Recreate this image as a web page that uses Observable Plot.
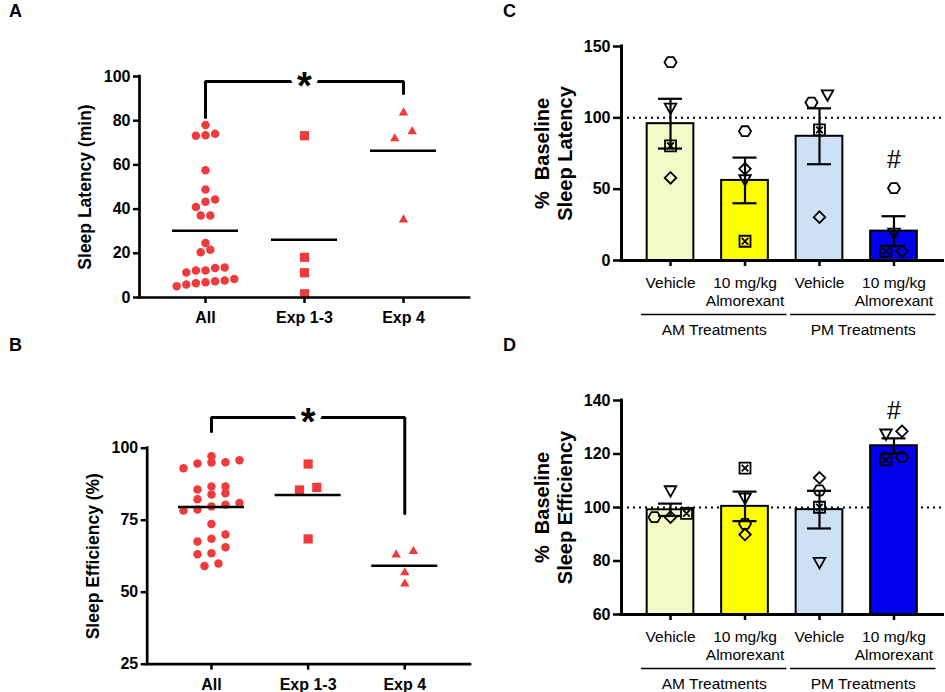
<!DOCTYPE html>
<html><head><meta charset="utf-8">
<script src="https://cdn.jsdelivr.net/npm/d3@7"></script>
<script src="https://cdn.jsdelivr.net/npm/@observablehq/plot@0.6"></script>
<style>
body{margin:0;background:#fff;}
#fig{position:relative;width:945px;height:692px;font-family:"Liberation Sans",Arial,Helvetica,sans-serif;}
.panel{position:absolute;}
.letter{position:absolute;font-weight:bold;font-size:18px;line-height:18px;color:#000;}
</style></head><body><div id="fig"></div>
<script>
// ---------------- DATA ----------------
const scatterGroups = ["All", "Exp 1-3", "Exp 4"];
const latencyAll = [78.1, 74.1, 73.2, 73.4, 57.6, 48.9, 43.3, 41.0, 44.3, 37.1, 37.1, 24.7, 20.5, 21.6, 12.2, 13.6, 13.4, 11.3, 12.2, 6.5, 8.4, 6.9, 7.7, 5.1, 7.4, 5.9];
const latencyExp13 = [73.2, 18.2, 11.2, 1.7];
const latencyExp4 = [83.6, 75.1, 71.9, 35.2];
const efficiencyAll = [97.2, 95.8, 95.1, 95.0, 94.7, 93.0, 86.7, 86.7, 84.4, 85.7, 83.9, 82.3, 81.0, 80.4, 79.8, 78.4, 78.7, 73.7, 68.6, 70.0, 67.6, 65.6, 63.5, 63.2, 59.1, 60.0];
const efficiencyExp13 = [94.5, 86.4, 85.5, 68.5];
const efficiencyExp4 = [63.0, 64.2, 56.8, 52.9];
const latencyTicks = [0, 20, 40, 60, 80, 100];
const efficiencyTicks = [25, 50, 75, 100];
const sigLatency = {from: 0, to: 2, top: 97.7, leftEnd: 81.4, rightEnd: 92.3, label: "*"};
const sigEfficiency = {from: 0, to: 2, top: 110.7, leftEnd: 105.8, rightEnd: 77.3, label: "*"};

const treatmentKeys = ["AM Vehicle", "AM Almorexant", "PM Vehicle", "PM Almorexant"];
const treatmentLabels = ["Vehicle", "10 mg/kg\nAlmorexant", "Vehicle", "10 mg/kg\nAlmorexant"];
const treatmentGroups = [{label: "AM Treatments", first: 0, last: 1}, {label: "PM Treatments", first: 2, last: 3}];
const subjectIds = ["S1", "S2", "S3", "S4"];
// % baseline sleep latency per subject, in treatment order
const latencyPctS1 = [139.0, 90.6, 110.7, 50.7];
const latencyPctS2 = [106.3, 56.1, 115.6, 18.7];
const latencyPctS3 = [80.4, 13.5, 91.6, 6.5];
const latencyPctS4 = [57.9, 64.3, 30.4, 6.5];
// % baseline sleep efficiency per subject
const efficiencyPctS1 = [96.4, 93.9, 106.4, 118.8];
const efficiencyPctS2 = [106.0, 103.2, 79.2, 127.2];
const efficiencyPctS3 = [97.8, 114.7, 100.1, 117.8];
const efficiencyPctS4 = [96.4, 89.9, 111.1, 128.5];
const pctLatencyTicks = [0, 50, 100, 150];
const pctEfficiencyTicks = [60, 80, 100, 120, 140];
const hashLatency = {treatment: 3, y: 70.6, label: "#"};
const hashEfficiency = {treatment: 3, y: 135.9, label: "#"};

// ---------------- STYLE ----------------
const FONT = '"Liberation Sans", Arial, Helvetica, sans-serif';
const RED = "#ef3b3b";
const barColors = ["#f4f9c8", "#ffff00", "#cde0f5", "#0000ee"];

// symbols (open)
const symHex = {draw(c, size) { const r = Math.sqrt(size / Math.PI) * 1.1; for (let k = 0; k < 6; ++k) { const a = k * Math.PI / 3; const x = r * Math.cos(a), y = r * Math.sin(a) * 0.95; k ? c.lineTo(x, y) : c.moveTo(x, y); } c.closePath(); }};
const symTriDown = {draw(c, size) { const r = Math.sqrt(size / Math.PI); const w = r * 1.05, h = r * 0.95; c.moveTo(-w, -h); c.lineTo(w, -h); c.lineTo(0, h); c.closePath(); }};
const symSquareX = {draw(c, size) { const r = Math.sqrt(size / Math.PI); c.moveTo(-r, -r); c.lineTo(r, -r); c.lineTo(r, r); c.lineTo(-r, r); c.closePath(); c.moveTo(-r * 0.6, -r * 0.6); c.lineTo(r * 0.6, r * 0.6); c.moveTo(r * 0.6, -r * 0.6); c.lineTo(-r * 0.6, r * 0.6); }};
const symDiamond = {draw(c, size) { const r = Math.sqrt(size / Math.PI) * 1.05; c.moveTo(0, -r); c.lineTo(r, 0); c.lineTo(0, r); c.lineTo(-r, 0); c.closePath(); }};
const subjectSymbols = [symHex, symTriDown, symSquareX, symDiamond];

// rows of overlapping points spread symmetrically (scatter-dot layout)
function rowSlots(values, thresh) {
  const order = d3.range(values.length).sort((a, b) => values[a] - values[b] || a - b);
  const slots = new Array(values.length);
  let row = [];
  const flush = () => { row.forEach((k, j) => slots[k] = j - (row.length - 1) / 2); row = []; };
  for (const k of order) {
    if (row.length && values[k] - values[row[0]] >= thresh) flush();
    row.push(k);
  }
  flush();
  return slots;
}

function scatterPanel(cfg) {
  const {width, height, ml, mr, mt, mb, xDomain, yDomain, yTicks, yLabel, series, steps, sig} = cfg;
  const pxX = (width - ml - mr) / (xDomain[1] - xDomain[0]);
  const pxY = (height - mt - mb) / (yDomain[1] - yDomain[0]);
  const symbols = ["circle", "square", "triangle"];
  const radii = [4.25, 5.2, 3.5];
  const marks = [];
  series.forEach((vals, gi) => {
    const slots = rowSlots(vals, 8.5 / pxY);
    const pts = vals.map((v, k) => ({x: gi + slots[k] * steps[gi] / pxX, y: v}));
    marks.push(Plot.dot(pts, {x: "x", y: "y", r: radii[gi], symbol: symbols[gi], fill: RED, stroke: "none"}));
  });
  const means = series.map((vals, gi) => ({g: gi, m: d3.mean(vals)}));
  marks.push(Plot.ruleY(means, {y: "m", x1: d => d.g - 33 / pxX, x2: d => d.g + 33 / pxX, strokeWidth: 2.5}));
  const br = [[sig.from, sig.leftEnd], [sig.from, sig.top], [sig.to, sig.top], [sig.to, sig.rightEnd]];
  marks.push(Plot.line(br, {x: d => d[0], y: d => d[1], strokeWidth: 3, strokeLinejoin: "miter"}));
  marks.push(Plot.text([sig], {x: d => (d.from + d.to) / 2, y: "top", text: "label", fontSize: 38, fontWeight: "bold", fill: "black", stroke: "white", strokeWidth: 12, dy: 5}));
  marks.push(Plot.ruleX([xDomain[0]], {strokeWidth: 2.7, strokeLinecap: "square"}));
  marks.push(Plot.ruleY([yDomain[0]], {strokeWidth: 2.7, strokeLinecap: "square"}));
  marks.push(Plot.axisY(yTicks, {tickSize: 6, tickPadding: 3, strokeWidth: 2.5, fontSize: 16, fontWeight: "bold", label: null}));
  marks.push(Plot.axisX(d3.range(scatterGroups.length), {tickSize: 6, tickPadding: 8, tickFormat: i => scatterGroups[i], strokeWidth: 2.5, fontSize: 16, fontWeight: "bold", label: null}));
  marks.push(Plot.text([yLabel], {text: d => d, frameAnchor: "left", textAnchor: "middle", dx: -54, rotate: -90, fontSize: 17.5, fontWeight: "bold"}));
  return Plot.plot({
    width, height, marginLeft: ml, marginRight: mr, marginTop: mt, marginBottom: mb,
    x: {type: "linear", domain: xDomain, label: null},
    y: {domain: yDomain, label: null},
    style: {fontFamily: FONT, color: "black", background: "transparent", overflow: "visible"},
    marks
  });
}

function barPanel(cfg) {
  const {width, height, ml, mr, mt, mb, yDomain, yTicks, yLabels, subjects, hash} = cfg;
  const xDomain = [-0.658, 3.658];
  const pxX = (width - ml - mr) / (xDomain[1] - xDomain[0]);
  const pxY = (height - mt - mb) / (yDomain[1] - yDomain[0]);
  const stats = treatmentKeys.map((t, i) => {
    const vals = subjects.map(s => s[i]);
    return {i, m: d3.mean(vals), sem: d3.deviation(vals) / Math.sqrt(vals.length), fill: barColors[i]};
  });
  const pts = [];
  treatmentKeys.forEach((t, i) => {
    const vals = subjects.map(s => s[i]);
    const slots = rowSlots(vals, 10 / pxY);
    vals.forEach((v, k) => pts.push({s: k, x: i + slots[k] * 16 / pxX, y: v}));
  });
  const bw = 23.35 / pxX, cap = 12 / pxX;
  const marks = [
    Plot.ruleY([100], {strokeWidth: 2, strokeDasharray: "2,4"}),
    Plot.rect(stats, {x1: d => d.i - bw, x2: d => d.i + bw, y1: yDomain[0], y2: "m", fill: "fill", stroke: "black", strokeWidth: 2}),
    Plot.ruleX(stats, {x: "i", y1: d => d.m - d.sem, y2: d => d.m + d.sem, strokeWidth: 2.2}),
    Plot.ruleY(stats, {y: d => d.m + d.sem, x1: d => d.i - cap, x2: d => d.i + cap, strokeWidth: 2.2}),
    Plot.ruleY(stats, {y: d => d.m - d.sem, x1: d => d.i - cap, x2: d => d.i + cap, strokeWidth: 2.2}),
    ...subjectIds.map((s, k) => Plot.dot(pts.filter(p => p.s === k), {x: "x", y: "y", r: 5.5, symbol: subjectSymbols[k], stroke: "black", fill: "none", strokeWidth: 1.8})),
    Plot.text([hash], {x: "treatment", y: "y", text: "label", fontSize: 25, fontWeight: "normal"}),
    Plot.ruleX([xDomain[0]], {strokeWidth: 3, strokeLinecap: "square"}),
    Plot.ruleY([yDomain[0]], {strokeWidth: 3, strokeLinecap: "square"}),
    Plot.axisY(yTicks, {tickSize: 8, tickPadding: 3, strokeWidth: 2.5, fontSize: 16, fontWeight: "bold", label: null}),
    Plot.axisX(d3.range(treatmentKeys.length), {tickSize: 6, tickPadding: 8, tickFormat: i => treatmentLabels[i], strokeWidth: 2.5, fontSize: 15.5, fontWeight: "normal", lineHeight: 1.18, label: null}),
    Plot.ruleY(treatmentGroups, {y: yDomain[0], x1: d => d.first - 29 / pxX, x2: d => d.last + 42 / pxX, dy: 54, strokeWidth: 1.5}),
    Plot.text(treatmentGroups, {x: d => (d.first + d.last) / 2 + 6.5 / pxX, y: yDomain[0], dy: 70, text: "label", fontSize: 15.5, fontWeight: "normal"}),
    Plot.text([yLabels[0]], {text: d => d, frameAnchor: "left", textAnchor: "middle", dx: -78.5, rotate: -90, fontSize: 20, fontWeight: "bold"}),
    Plot.text([yLabels[1]], {text: d => d, frameAnchor: "left", textAnchor: "middle", dx: -56, rotate: -90, fontSize: 20, fontWeight: "bold"})
  ];
  return Plot.plot({
    width, height, marginLeft: ml, marginRight: mr, marginTop: mt, marginBottom: mb,
    x: {type: "linear", domain: xDomain, label: null},
    y: {domain: yDomain, label: null},
    color: {type: "identity"},
    style: {fontFamily: FONT, color: "black", background: "transparent", overflow: "visible"},
    marks
  });
}

const fig = document.getElementById("fig");
function place(el, left, top, w, h) {
  const d = document.createElement("div");
  d.className = "panel";
  Object.assign(d.style, {left: left + "px", top: top + "px", width: w + "px", height: h + "px"});
  d.appendChild(el);
  fig.appendChild(d);
}
function letter(t, left, top) {
  const d = document.createElement("div");
  d.className = "letter"; d.textContent = t;
  Object.assign(d.style, {left: left + "px", top: top + "px"});
  fig.appendChild(d);
}

place(scatterPanel({width: 470, height: 330, ml: 139, mr: 1, mt: 76, mb: 33, xDomain: [-0.6667, 2.6667], yDomain: [0, 100], yTicks: latencyTicks, yLabel: "Sleep Latency (min)", series: [latencyAll, latencyExp13, latencyExp4], steps: [9.6, 17.5, 17.5], sig: sigLatency}), 0, 0, 470, 330);
place(scatterPanel({width: 470, height: 362, ml: 146.7, mr: 0, mt: 117.7, mb: 28.3, xDomain: [-0.665, 2.68], yDomain: [25, 100], yTicks: efficiencyTicks, yLabel: "Sleep Efficiency (%)", series: [efficiencyAll, efficiencyExp13, efficiencyExp4], steps: [14, 17.3, 17.3], sig: sigEfficiency}), 0, 330, 470, 362);
place(barPanel({width: 475, height: 340, ml: 151, mr: 2.5, mt: 46, mb: 80, yDomain: [0, 150], yTicks: pctLatencyTicks, yLabels: ["%\u00a0 Baseline", "Sleep Latency"], subjects: [latencyPctS1, latencyPctS2, latencyPctS3, latencyPctS4], hash: hashLatency}), 470, 0, 475, 340);
place(barPanel({width: 475, height: 352, ml: 151, mr: 2.5, mt: 60, mb: 78, yDomain: [60, 140], yTicks: pctEfficiencyTicks, yLabels: ["%\u00a0 Baseline", "Sleep Efficiency"], subjects: [efficiencyPctS1, efficiencyPctS2, efficiencyPctS3, efficiencyPctS4], hash: hashEfficiency}), 470, 340, 475, 352);

const panelLetters = ["A", "B", "C", "D"];
letter(panelLetters[0], 9, 2);
letter(panelLetters[1], 9, 336);
letter(panelLetters[2], 503, 2);
letter(panelLetters[3], 503, 336);
</script></body></html>
